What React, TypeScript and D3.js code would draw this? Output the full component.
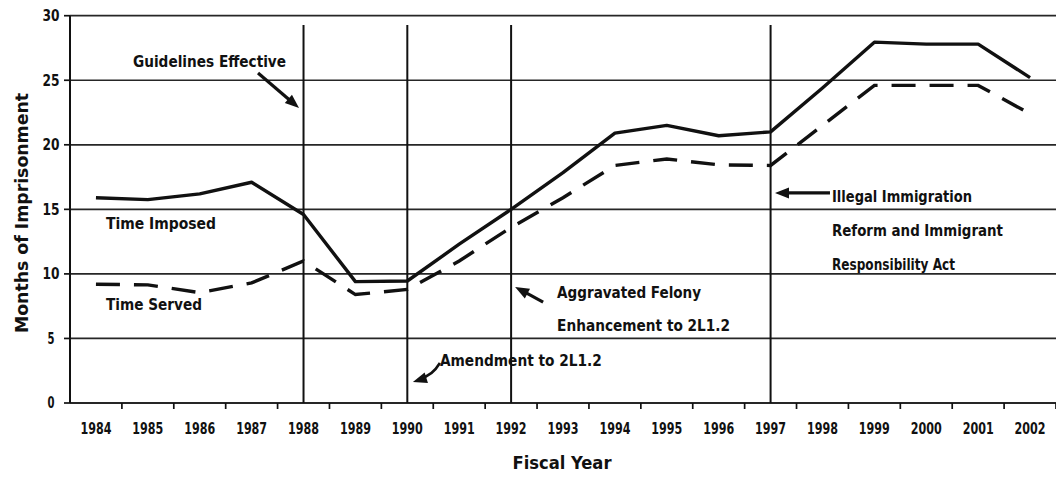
import React from "react";
import * as d3 from "d3";

const years = ["1984","1985","1986","1987","1988","1989","1990","1991","1992","1993","1994","1995","1996","1997","1998","1999","2000","2001","2002"];
const timeImposed = [15.9, 15.75, 16.2, 17.1, 14.6, 9.4, 9.45, 12.3, 15.0, 17.85, 20.9, 21.5, 20.7, 21.0, 24.4, 27.95, 27.8, 27.8, 25.2];
const timeServed = [9.2, 9.15, 8.55, 9.3, 11.0, 8.4, 8.8, 11.0, 13.6, 15.9, 18.4, 18.9, 18.45, 18.4, 21.5, 24.6, 24.6, 24.6, 22.4];
const yTicks = [0, 5, 10, 15, 20, 25, 30];
const eventYears = ["1988", "1990", "1992", "1997"];

const W = 1056, H = 479;
const left = 70, right = 1056, top = 15.7, bottom = 403;

const FONT = "'Liberation Sans Narrow', 'DejaVu Sans Condensed', 'Liberation Sans', Arial, sans-serif";
const FONT2 = "'Liberation Sans', Arial, sans-serif";

export default function App() {
  const x = d3.scaleBand<string>().domain(years).range([left, right]).padding(0);
  const cx = (yr: string) => (x(yr) as number) + x.bandwidth() / 2;
  const y = d3.scaleLinear().domain([0, 30]).range([bottom, top]);

  const line = d3.line<number>().x((_, i) => cx(years[i])).y((d) => y(d)).curve(d3.curveLinear);

  const ink = "#111";
  const grid = "#262626";

  const arrowHead = (x1: number, y1: number, x2: number, y2: number, len = 14, wid = 11) => {
    const a = Math.atan2(y2 - y1, x2 - x1);
    const bx = x2 - len * Math.cos(a), by = y2 - len * Math.sin(a);
    const px = -Math.sin(a) * wid / 2, py = Math.cos(a) * wid / 2;
    return `M${x2},${y2}L${bx + px},${by + py}L${bx - px},${by - py}Z`;
  };

  const eG = cx("1988"), eA = cx("1990"), eF = cx("1992"), eI = cx("1997");
  const x0 = cx("1984");

  const annText = (txt: string, xx: number, v: number, len: number, anchor = "start", size = 15) => (
    <text x={xx} y={y(v)} dy="0.35em" textAnchor={anchor} fontFamily={FONT} fontWeight="bold" fontSize={size}
      fill={ink} textLength={len} lengthAdjust="spacingAndGlyphs">{txt}</text>
  );

  const arrow = (sx: number, sv: number, tx: number, tv: number) => {
    const X1 = sx, Y1 = y(sv), X2 = tx, Y2 = y(tv);
    const a = Math.atan2(Y2 - Y1, X2 - X1);
    return (
      <g>
        <line x1={X1} y1={Y1} x2={X2 - 9 * Math.cos(a)} y2={Y2 - 9 * Math.sin(a)} stroke={ink} strokeWidth={3.2} />
        <path d={arrowHead(X1, Y1, X2, Y2)} fill={ink} />
      </g>
    );
  };

  const amS = [eA + 32.6, y(3.1)], amC = [eA + 24.6, y(2.09)], amT = [eA + 5.6, y(1.63)];

  return (
    <div style={{ position: "absolute", left: 0, top: 0 }}>
      <svg width={W} height={H} style={{ display: "block", background: "#fff" }}>
        <rect x={0} y={0} width={W} height={H} fill="#fff" />
        {yTicks.map((t) => (
          <g key={t}>
            <line x1={left} x2={right} y1={y(t)} y2={y(t)} stroke={grid} strokeWidth={t === 0 ? 2 : 1.7} />
            <line x1={left - 6} x2={left} y1={y(t)} y2={y(t)} stroke={ink} strokeWidth={1.7} />
            <text x={51} y={y(t)} dy="0.36em" textAnchor="middle" fontFamily={FONT} fontWeight="bold"
              fontSize={15} fill={ink} textLength={t >= 10 ? 17 : 7} lengthAdjust="spacingAndGlyphs">{t}</text>
          </g>
        ))}
        <line x1={left} x2={left} y1={top} y2={bottom} stroke={ink} strokeWidth={2} />
        {years.map((yr) => (
          <g key={yr}>
            <line x1={(x(yr) as number) + x.bandwidth()} x2={(x(yr) as number) + x.bandwidth()} y1={bottom} y2={bottom + 6}
              stroke={ink} strokeWidth={1.7} />
            <text x={cx(yr)} y={429} dy="0.36em" textAnchor="middle" fontFamily={FONT} fontWeight="bold"
              fontSize={15} fill={ink} textLength={31} lengthAdjust="spacingAndGlyphs">{yr}</text>
          </g>
        ))}
        {eventYears.map((yr) => (
          <line key={yr} x1={cx(yr)} x2={cx(yr)} y1={25} y2={bottom} stroke={ink} strokeWidth={2} />
        ))}
        <path d={line(timeImposed) as string} fill="none" stroke={ink} strokeWidth={3.4} strokeLinejoin="round" />
        <path d={line(timeServed) as string} fill="none" stroke={ink} strokeWidth={3.4} strokeDasharray="24,14" />

        {annText("Time Imposed", x0 + 10, 13.87, 110)}
        {annText("Time Served", x0 + 10, 7.59, 96)}

        {annText("Guidelines Effective", eG - 94, 26.4, 153, "middle")}
        {arrow(eG - 45.5, 25.56, eG - 4.5, 22.85)}

        {arrow(eI + 59.4, 16.27, eI + 4.4, 16.27)}
        {annText("Illegal Immigration", eI + 61.4, 15.96, 140)}
        {annText("Reform and Immigrant", eI + 61.4, 13.32, 171)}
        {annText("Responsibility Act", eI + 61.4, 10.69, 123)}

        {arrow(eF + 32, 7.82, eF + 4, 8.99)}
        {annText("Aggravated Felony", eF + 46, 8.52, 144)}
        {annText("Enhancement to 2L1.2", eF + 46, 5.96, 173)}

        <path d={`M${amS[0]},${amS[1]}Q${amC[0]},${amC[1]} ${amT[0] + 8},${amT[1] - 4}`} fill="none" stroke={ink} strokeWidth={2.6} />
        <path d={arrowHead(amC[0], amC[1], amT[0], amT[1], 14, 11)} fill={ink} />
        {annText("Amendment to 2L1.2", eA + 32.6, 3.25, 162)}

        <text transform={`translate(22,213) rotate(-90)`} textAnchor="middle" dy="0.35em" fontFamily={FONT}
          fontWeight="bold" fontSize={17} fill={ink} textLength={240} lengthAdjust="spacingAndGlyphs">Months of Imprisonment</text>
        <text x={562} y={463} dy="0.35em" textAnchor="middle" fontFamily={FONT} fontWeight="bold" fontSize={17}
          fill={ink} textLength={99} lengthAdjust="spacingAndGlyphs">Fiscal Year</text>
      </svg>
    </div>
  );
}
